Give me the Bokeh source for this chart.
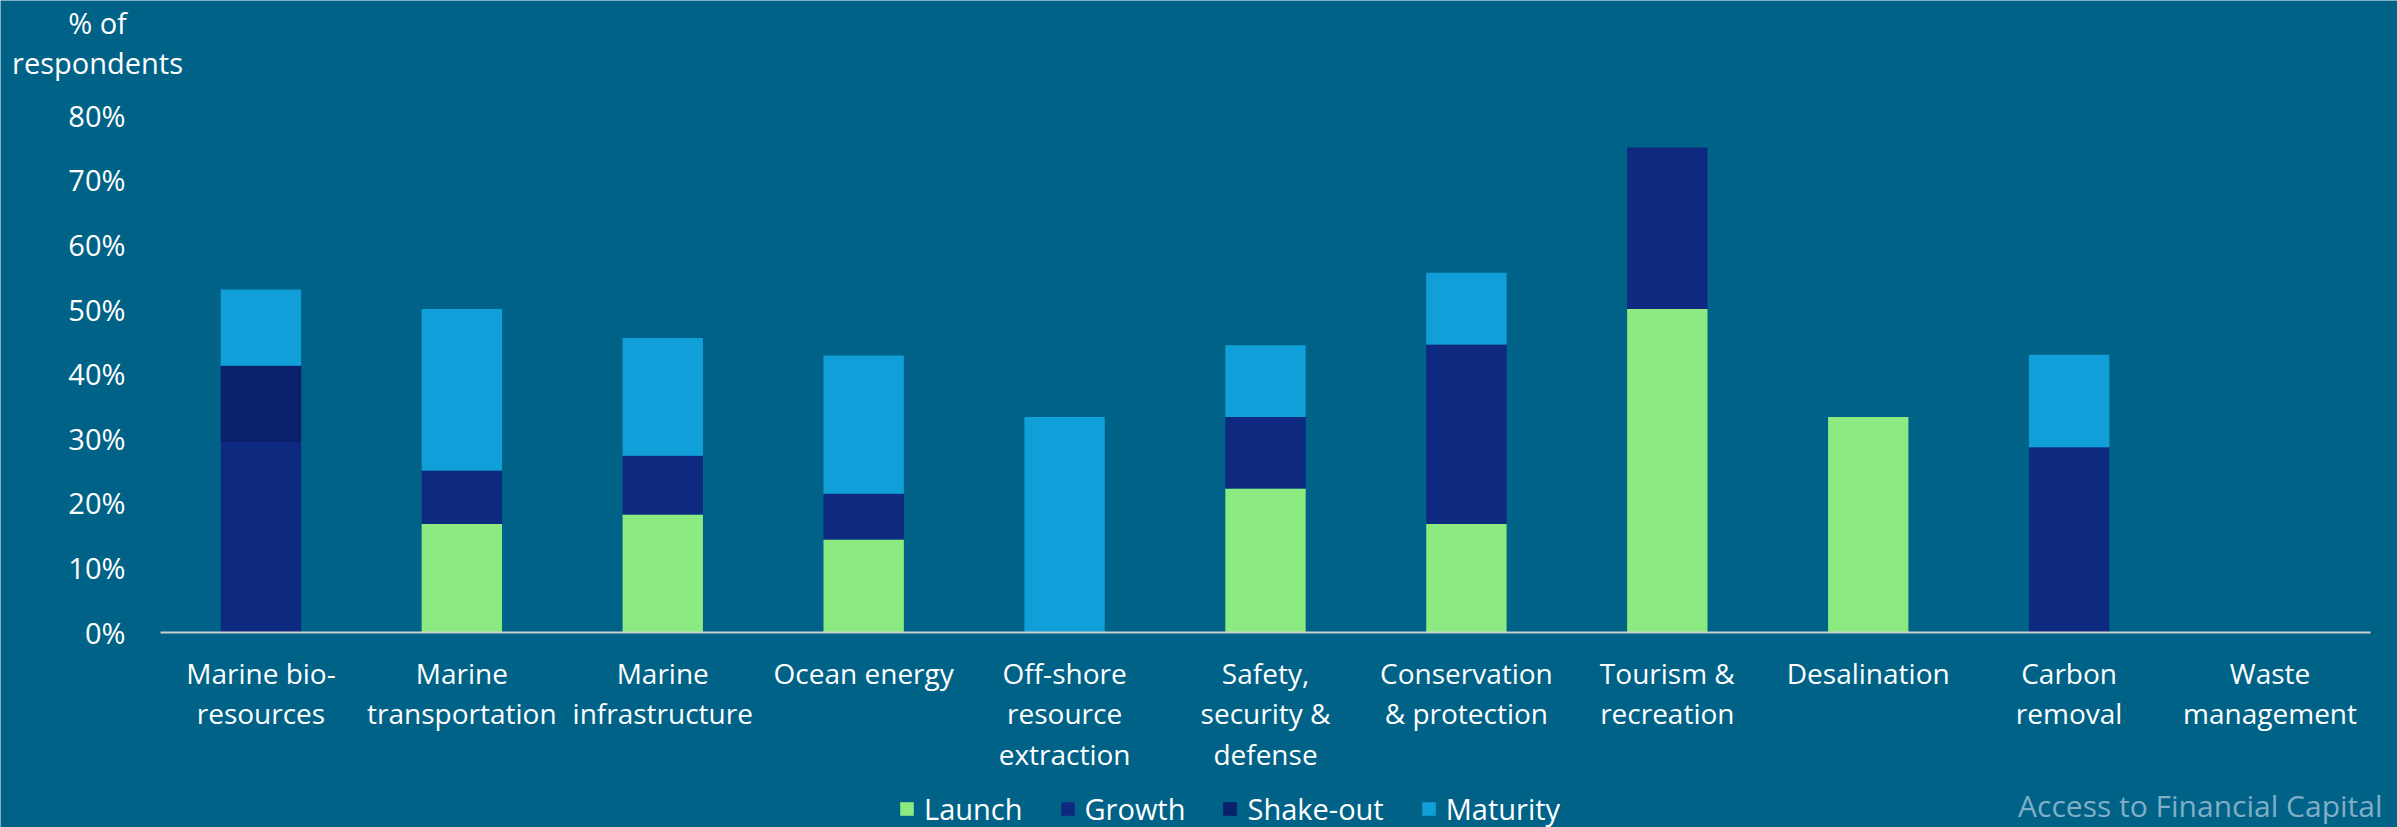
from bokeh.plotting import figure
from bokeh.models import (Range1d, FixedTicker, NumeralTickFormatter,
                          Label, Legend, LegendItem, ColumnDataSource)
from bokeh.embed import file_html
from bokeh.resources import INLINE

# ---- data ----
categories = ["Marine bio-\nresources", "Marine\ntransportation", "Marine\ninfrastructure",
              "Ocean energy", "Off-shore\nresource\nextraction", "Safety,\nsecurity &\ndefense",
              "Conservation\n& protection", "Tourism &\nrecreation", "Desalination",
              "Carbon\nremoval", "Waste\nmanagement"]
stages = ["Launch", "Growth", "Shake-out", "Maturity"]
launch = [0.0, 0.167, 0.182, 0.143, 0.0, 0.222, 0.167, 0.50, 0.333, 0.0, 0.0]
growth = [0.294, 0.083, 0.091, 0.071, 0.0, 0.111, 0.278, 0.25, 0.0, 0.286, 0.0]
shakeout = [0.118, 0.0, 0.0, 0.0, 0.0, 0.0, 0.0, 0.0, 0.0, 0.0, 0.0]
maturity = [0.118, 0.25, 0.182, 0.214, 0.333, 0.111, 0.111, 0.0, 0.0, 0.143, 0.0]
y_ticks = [0, 0.1, 0.2, 0.3, 0.4, 0.5, 0.6, 0.7, 0.8]

colors = ["#8BEA80", "#0E2A80", "#0B206A", "#109FD8"]
BG = "#006287"
FONT = "Open Sans"

W, H = 2397, 827
# pixel geometry of the plotting area inside the canvas
LEFT, RIGHT = 160.0, 2370.0
Y0, Y80 = 631.5, 114.7
n = len(categories)
step = (RIGHT - LEFT) / n
ppu = (Y0 - Y80) / 0.8

xs = list(range(n))
src = ColumnDataSource(dict(x=xs, Launch=launch, Growth=growth,
                            **{"Shake-out": shakeout}, Maturity=maturity))

p = figure(width=W, height=H, output_backend="svg", toolbar_location=None,
           x_range=Range1d(-0.5 - LEFT / step, n - 0.5 + (W - RIGHT) / step),
           y_range=Range1d(-(H - Y0) / ppu, 0.8 + Y80 / ppu),
           min_border=0)
p.background_fill_color = BG
p.border_fill_color = BG
p.outline_line_color = None
p.xgrid.visible = False
p.ygrid.visible = False

renderers = p.vbar_stack(stages, x="x", width=0.4, source=src, color=colors,
                         line_color=None)

# y axis
p.yaxis.fixed_location = -0.5
p.yaxis.ticker = FixedTicker(ticks=y_ticks)
p.yaxis.formatter = NumeralTickFormatter(format="0%")
p.yaxis.axis_line_color = None
p.yaxis.major_tick_line_color = None
p.yaxis.minor_tick_line_color = None
p.yaxis.major_label_text_color = "white"
p.yaxis.major_label_text_font = FONT
p.yaxis.major_label_text_font_size = "29px"
p.yaxis.major_label_standoff = 29

# x axis
p.xaxis.fixed_location = 0
p.xaxis.bounds = (-0.5, n - 0.5)
p.xaxis.ticker = FixedTicker(ticks=xs)
p.xaxis.major_label_overrides = {i: c for i, c in zip(xs, categories)}
p.xaxis.axis_line_color = "#D0D0D0"
p.xaxis.axis_line_width = 2
p.xaxis.major_tick_line_color = None
p.xaxis.minor_tick_line_color = None
p.xaxis.major_label_text_color = "white"
p.xaxis.major_label_text_font = FONT
p.xaxis.major_label_text_font_size = "28px"
p.xaxis.major_label_text_line_height = 1.06
p.xaxis.major_label_standoff = 16

# y axis title
for txt, yy in (("% of", H - 22), ("respondents", H - 62)):
    p.add_layout(Label(x=97, y=yy, x_units="screen", y_units="screen", text=txt,
                       text_align="center", text_baseline="middle", text_color="white",
                       text_font=FONT, text_font_size="29px"))

# source note
p.add_layout(Label(x=2382, y=H - 804.5, x_units="screen", y_units="screen",
                   text="Access to Financial Capital", text_align="right",
                   text_baseline="middle", text_color="#7FAEC6",
                   text_font=FONT, text_font_size="30px"))

legend = Legend(items=[LegendItem(label=s, renderers=[r]) for s, r in zip(stages, renderers)],
                orientation="horizontal", location=(898, -1),
                background_fill_alpha=0, border_line_color=None,
                label_text_color="white", label_text_font=FONT, label_text_font_size="29px",
                glyph_width=17, glyph_height=17, label_standoff=9, spacing=36,
                padding=0, margin=0)
p.add_layout(legend, "center")

open("out.html", "w").write(file_html(p, INLINE))
